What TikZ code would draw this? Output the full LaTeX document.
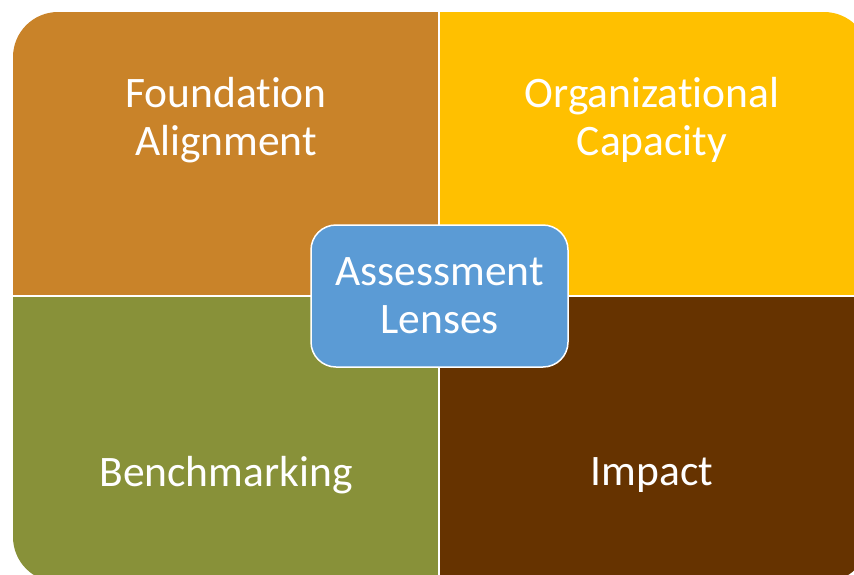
\documentclass[tikz,border=0pt]{standalone}
\usepackage{fontspec}
\setmainfont{Carlito}[Ligatures=NoCommon]
\usetikzlibrary{positioning}
\definecolor{foundcol}{RGB}{201,131,41}
\definecolor{orgcol}{RGB}{255,192,0}
\definecolor{benchcol}{RGB}{136,145,57}
\definecolor{impactcol}{RGB}{102,51,0}
\definecolor{lenscol}{RGB}{91,155,213}
\tikzset{
  lenstext/.style={text=white, align=center, font=\fontsize{43.5}{48}\selectfont},
}
\begin{document}
\begin{tikzpicture}[x=1pt, y=-1pt]
  \useasboundingbox (0,0) rectangle (854,574);
  % Quadrants
  \begin{scope}
    \clip[rounded corners=45pt] (13,12) rectangle (869,582);
    \fill[foundcol] (13,12) rectangle (439,296);
    \fill[orgcol] (439,12) rectangle (869,296);
    \fill[benchcol] (13,296) rectangle (439,582);
    \fill[impactcol] (439,296) rectangle (869,582);
    % Dividers
    \draw[white, line width=1.2pt] (439,12) -- (439,582);
    \draw[white, line width=1.2pt] (13,296) -- (869,296);
  \end{scope}
  % Labels
  \node[lenstext] (found) at (226,120) {Foundation\\Alignment};
  \node[lenstext] (org) at (652,120) {Organizational\\Capacity};
  \node[lenstext] (bench) at (226,475) {Benchmarking};
  \node[lenstext] (impact) at (652,475) {Impact};
  % Centre box
  \node[lenstext, draw=white, line width=1.5pt, fill=lenscol, rounded corners=25pt,
        minimum width=257pt, minimum height=142pt] (lens) at (439.5,296) {Assessment\\Lenses};
\end{tikzpicture}
\end{document}
